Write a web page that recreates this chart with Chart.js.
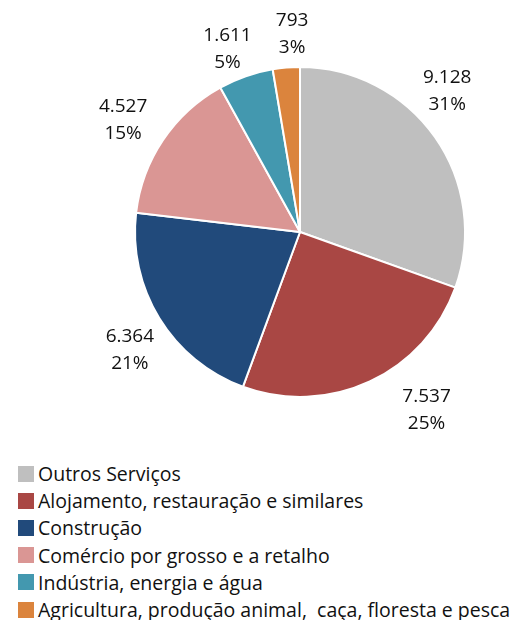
<!DOCTYPE html>
<html>
<head>
<meta charset="utf-8">
<script src="https://cdn.jsdelivr.net/npm/chart.js@4/dist/chart.umd.min.js"></script>
<style>
  html, body { margin: 0; padding: 0; background: #ffffff; }
  #wrap { position: relative; width: 522px; height: 620px; }
  #c { position: absolute; left: 0; top: 0; }
  #legend { position: absolute; left: 18px; top: 460px; font-family: "Open Sans", "Liberation Sans", sans-serif; font-size: 19.5px; color: #111111; }
  .row { display: flex; align-items: center; height: 27.2px; white-space: pre; }
  .sw { width: 16px; height: 16px; margin-right: 4px; flex: none; }
</style>
</head>
<body>
<div id="wrap">
  <canvas id="c" width="522" height="450"></canvas>
  <div id="legend"></div>
</div>
<script>
const categories = [
  "Outros Serviços",
  "Alojamento, restauração e similares",
  "Construção",
  "Comércio por grosso e a retalho",
  "Indústria, energia e água",
  "Agricultura, produção animal,  caça, floresta e pesca"
];
const values = [9128, 7537, 6364, 4527, 1611, 793];
const percents = [31, 25, 21, 15, 5, 3];
const colors = ["#BFBFBF", "#A94744", "#214A7B", "#DA9694", "#4398AF", "#DB843D"];

// label placement tweaks (styling only): angle shift in degrees from slice middle, distance as multiple of radius
const labelAngleShift = [-8.6, -10.5, -3.1, -1.5, -2.4, 2.5];
const labelDistance = [1.235, 1.32, 1.253, 1.27, 1.193, 1.205];

function fmt(v) {
  return String(v).replace(/\B(?=(\d{3})+(?!\d))/g, ".");
}

const labelPlugin = {
  id: "outLabels",
  afterDatasetsDraw(chart) {
    const ctx = chart.ctx;
    const meta = chart.getDatasetMeta(0);
    ctx.save();
    ctx.font = "19px 'Open Sans', 'Liberation Sans', sans-serif";
    ctx.fillStyle = "#111111";
    ctx.textAlign = "center";
    ctx.textBaseline = "middle";
    meta.data.forEach((arc, i) => {
      const p = arc.getProps(["x", "y", "startAngle", "endAngle", "outerRadius"], true);
      const mid = (p.startAngle + p.endAngle) / 2 + labelAngleShift[i] * Math.PI / 180;
      const d = p.outerRadius * labelDistance[i];
      const cx = p.x + Math.cos(mid) * d;
      const cy = p.y + Math.sin(mid) * d;
      ctx.fillText(fmt(values[i]), cx, cy - 13);
      ctx.fillText(percents[i] + "%", cx, cy + 14);
    });
    ctx.restore();
  }
};

new Chart(document.getElementById("c"), {
  type: "pie",
  data: {
    labels: categories,
    datasets: [{
      data: values,
      backgroundColor: colors,
      borderColor: "#ffffff",
      borderWidth: 2
    }]
  },
  options: {
    responsive: false,
    animation: false,
    layout: { padding: { left: 134, right: 56, top: 66, bottom: 52 } },
    plugins: {
      legend: { display: false },
      tooltip: { enabled: false }
    }
  },
  plugins: [labelPlugin]
});

const leg = document.getElementById("legend");
categories.forEach((name, i) => {
  const row = document.createElement("div");
  row.className = "row";
  const sw = document.createElement("span");
  sw.className = "sw";
  sw.style.background = colors[i];
  const t = document.createElement("span");
  t.textContent = name;
  row.appendChild(sw);
  row.appendChild(t);
  leg.appendChild(row);
});
</script>
</body>
</html>
